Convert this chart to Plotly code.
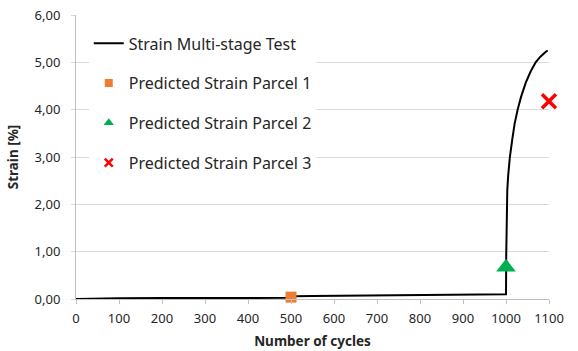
import plotly.graph_objects as go

cycles = [0, 50, 100, 200, 300, 400, 495, 500, 510, 550, 600, 700, 800, 900, 950, 998,
          1000, 1000.5, 1001, 1001.5, 1003, 1005, 1009, 1015, 1020, 1027, 1035, 1046,
          1057, 1069, 1080, 1092, 1097]
strain = [0.0, 0.01, 0.015, 0.02, 0.02, 0.02, 0.025, 0.04, 0.06, 0.065, 0.07, 0.075, 0.08,
          0.085, 0.09, 0.1, 0.1, 0.9, 1.6, 2.0, 2.3, 2.6, 3.0, 3.4, 3.7, 4.0, 4.27, 4.57,
          4.8, 5.0, 5.12, 5.22, 5.25]

# Predicted strain points
p1_x, p1_y = [500], [0.04]
p2_x, p2_y = [1000], [0.67]
p3_x, p3_y = [1100], [4.18]

x_ticks = [0, 100, 200, 300, 400, 500, 600, 700, 800, 900, 1000, 1100]
y_ticks = [0, 1, 2, 3, 4, 5, 6]
y_tick_text = ["0,00", "1,00", "2,00", "3,00", "4,00", "5,00", "6,00"]

names = ["Strain Multi-stage Test", "Predicted Strain Parcel 1",
         "Predicted Strain Parcel 2", "Predicted Strain Parcel 3"]

FONT = "Noto Sans"
GRID = "#D9D9D9"
AXIS = "#BFBFBF"
ORANGE = "#ED7D31"
GREEN = "#00B050"
RED = "#FF0000"

fig = go.Figure()
# plotted data
fig.add_trace(go.Scatter(x=cycles, y=strain, mode="lines", name=names[0],
                         line=dict(color="black", width=2), legendgroup="a"))
fig.add_trace(go.Scatter(x=p1_x, y=p1_y, mode="markers", name=names[1], showlegend=False,
                         marker=dict(symbol="square", size=11, color=ORANGE),
                         cliponaxis=False))
fig.add_trace(go.Scatter(x=p2_x, y=p2_y, mode="markers", name=names[2], showlegend=False,
                         marker=dict(symbol="triangle-up", size=17, color=GREEN),
                         cliponaxis=False))
fig.add_trace(go.Scatter(x=p3_x, y=p3_y, mode="markers", name=names[3], showlegend=False,
                         marker=dict(symbol="x-thin", size=14, color=RED,
                                     line=dict(color=RED, width=3.5)),
                         cliponaxis=False))
# legend entries with smaller symbols
fig.add_trace(go.Scatter(x=[None], y=[None], mode="markers", name=names[1],
                         marker=dict(symbol="square", size=8, color=ORANGE), legendgroup="b"))
fig.add_trace(go.Scatter(x=[None], y=[None], mode="markers", name=names[2],
                         marker=dict(symbol="triangle-up", size=9, color=GREEN), legendgroup="c"))
fig.add_trace(go.Scatter(x=[None], y=[None], mode="markers", name=names[3],
                         marker=dict(symbol="x-thin", size=8, color=RED,
                                     line=dict(color=RED, width=2.5)), legendgroup="d"))

fig.update_layout(
    width=578, height=351,
    margin=dict(l=76, r=29, t=15, b=52),
    paper_bgcolor="white", plot_bgcolor="white",
    font=dict(family=FONT, size=13, color="#262626"),
    showlegend=True,
    legend=dict(x=0.027, y=0.96, xanchor="left", yanchor="top",
                bgcolor="white", borderwidth=0,
                font=dict(family=FONT, size=16, color="#262626"),
                tracegroupgap=16, traceorder="grouped"),
    xaxis=dict(range=[0, 1100], tickvals=x_ticks, showgrid=False, automargin=False,
               showline=True, linecolor=AXIS, linewidth=1,
               ticks="outside", ticklen=4, tickcolor=AXIS,
               ticklabelstandoff=3, zeroline=False,
               title=dict(text="<b>Number of cycles</b>", standoff=10,
                          font=dict(family=FONT, size=13.5, color="#262626"))),
    yaxis=dict(range=[0, 6], tickvals=y_ticks, ticktext=y_tick_text,
               showgrid=True, gridcolor=GRID, gridwidth=1, automargin=False,
               showline=True, linecolor=AXIS, linewidth=1,
               ticks="outside", ticklen=4, tickcolor=GRID,
               ticklabelstandoff=8, zeroline=False,
               title=dict(text="<b>Strain [%]</b>", standoff=12,
                          font=dict(family=FONT, size=13.5, color="#262626"))),
)

fig.write_html("out.html")
